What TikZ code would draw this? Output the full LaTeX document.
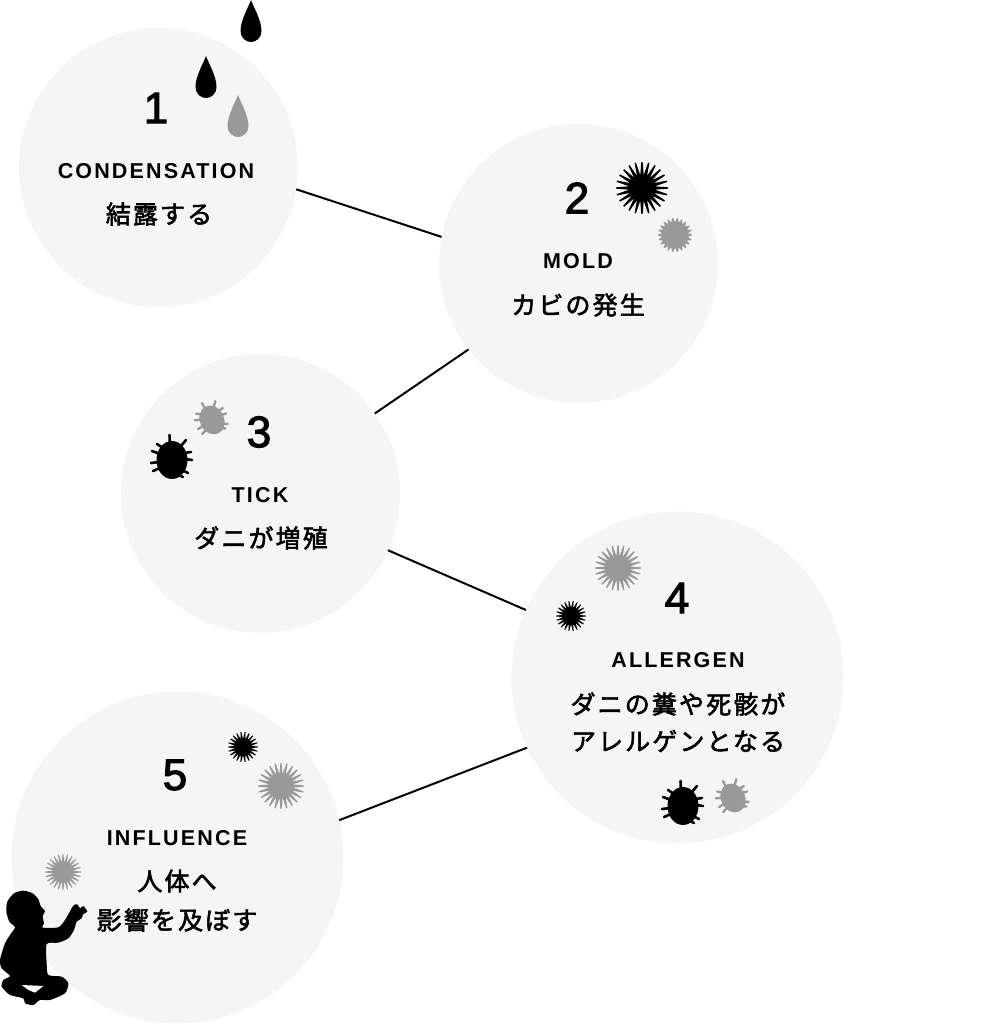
\documentclass[tikz,border=0pt]{standalone}
\usepackage{fontspec}
\setmainfont{Liberation Sans}
\newfontfamily\numfont[FakeBold=2.5]{Liberation Sans}
\newfontfamily\labfont[LetterSpace=10]{Liberation Sans Bold}
\newfontfamily\jpfont[LetterSpace=8.5,FakeBold=2.2]{Noto Sans CJK JP}
\definecolor{disc}{HTML}{F5F5F5}
\definecolor{midgray}{HTML}{999999}
\tikzset{
  discnode/.style={circle,fill=disc,inner sep=0pt,outer sep=0pt,minimum size=#1},
  numtext/.style={font=\numfont\fontsize{44}{44}\selectfont,inner sep=0pt},
  labtext/.style={font=\labfont\fontsize{21.5}{21.5}\selectfont,inner sep=0pt},
  jptext/.style={font=\jpfont\fontsize{25}{25}\selectfont,inner sep=0pt},
  linker/.style={draw=black,line width=2pt}
}
\newcommand{\spikestar}[6]{%
 \begin{scope}[shift={(#1,#2)}]
  \fill[#6] (0.1*360/#5:#3pt) \foreach \i in {1,...,#5} { -- ({(\i-0.5)*360/#5}:#4pt) -- ({(\i-0.1)*360/#5}:#3pt) -- ({(\i+0.1)*360/#5}:#3pt) } -- cycle;
 \end{scope}}
\newcommand{\dropshape}[3]{%
 \begin{scope}[shift={(#1,#2)}]
  \fill[#3] (0,0) .. controls (2,6) and (10.5,20) .. (10.5,31)
    .. controls (10.5,38) and (5,42) .. (0,42)
    .. controls (-5,42) and (-10.5,38) .. (-10.5,31)
    .. controls (-10.5,20) and (-2,6) .. (0,0) -- cycle;
 \end{scope}}
\newcommand{\tickshape}[6]{%
 \begin{scope}[shift={(#1,#2)},rotate=#3,scale=#4]
  \fill[#5] (0,0) ellipse [x radius=15.5,y radius=19];
  \draw[#5,line width=#6,line cap=round]
    (-2,-14) -- (-2.5,-25)
    (8,-13) -- (14,-20)
    (-9,-12) -- (-15,-16)
    (-12,-6) -- (-20,-9)
    (-13,2) -- (-21,3)
    (-12,8) -- (-19,11)
    (12,-7) -- (19,-8)
    (13,-1) -- (20,0)
    (10,10) -- (16,13)
    (5,14) -- (11,17);
 \end{scope}}
\begin{document}
\begin{tikzpicture}[x=1pt,y=-1pt]
\useasboundingbox (0,0) rectangle (1000,1024);
\fill[white] (0,0) rectangle (1000,1024);
\node[discnode=279pt] (c1) at (158.5,167.5) {};
\node[discnode=279pt] (c2) at (578.5,263.5) {};
\node[discnode=279pt] (c3) at (260.5,493.5) {};
\node[discnode=332pt] (c4) at (677.5,677.5) {};
\node[discnode=332pt] (c5) at (177.5,857.5) {};
\draw[linker] (c1.-9.4) -- (c2.169.3);
\draw[linker] (c2.218) -- (c3.35.5);
\draw[linker] (c3.-24.6) -- (c4.156.7);
\draw[linker] (c4.205.3) -- (c5.13.8);
% drops
\dropshape{251}{0}{black}
\dropshape{206}{56}{black}
\dropshape{238}{95}{midgray}
% stars
\spikestar{642}{188}{26}{13}{24}{black}
\spikestar{675}{235}{17}{13}{22}{midgray}
\spikestar{618}{568}{23}{12}{24}{midgray}
\spikestar{571}{616}{15}{8}{22}{black}
\spikestar{243}{747}{15}{8}{22}{black}
\spikestar{281}{786}{23}{12}{24}{midgray}
\spikestar{63}{872}{18}{9.5}{24}{midgray}
% ticks
\tickshape{172}{460}{0}{1}{black}{2.6pt}
\tickshape{212}{420}{25}{0.78}{midgray}{2.4pt}
\tickshape{683}{806}{0}{1}{black}{2.6pt}
\tickshape{733}{798}{25}{0.78}{midgray}{2.4pt}
% child
\begin{scope}[shift={(0,840)},x=0.3333pt,y=-0.3333pt]
\fill[black] plot[smooth cycle,tension=0.4] coordinates {
 (45,262) (28,245) (19,215) (22,185) (42,160) (70,152) (98,160) (115,178) (122,198) (135,214) (128,228) (132,250) (128,263)
 (175,262) (195,240) (215,205) (222,195) (232,193) (240,205) (250,198) (262,215) (250,222) (245,235) (230,245) (222,270) (205,295) (175,308) (140,312)
 (140,370) (145,405) (185,410) (205,430) (195,460) (150,480) (120,480) (100,495) (75,490) (70,475) (30,465) (5,440) (10,420) (30,408) (5,385) (0,360) (15,310) (30,285)};
\fill[white] (65,435) -- (130,438) -- (105,458) -- (85,450) -- cycle;
\end{scope}
% text
\node[numtext] (n1) at (156,108) {1};
\node[labtext] (l1) at (156,171) {CONDENSATION};
\node[jptext] (j1) at (159,214) {結露する};
\node[numtext] (n2) at (577,198) {2};
\node[labtext] (l2) at (578,261) {MOLD};
\node[jptext] (j2) at (578,305) {カビの発生};
\node[numtext] (n3) at (259,432) {3};
\node[labtext] (l3) at (260,495) {TICK};
\node[jptext] (j3) at (261,538) {ダニが増殖};
\node[numtext] (n4) at (677,598) {4};
\node[labtext] (l4) at (678,660) {ALLERGEN};
\node[jptext] (j4a) at (678,704) {ダニの糞や死骸が};
\node[jptext] (j4b) at (678,741) {アレルゲンとなる};
\node[numtext] (n5) at (175,775) {5};
\node[labtext] (l5) at (177,838) {INFLUENCE};
\node[jptext] (j5a) at (177,881) {人体へ};
\node[jptext] (j5b) at (177,920) {影響を及ぼす};
\end{tikzpicture}
\end{document}
